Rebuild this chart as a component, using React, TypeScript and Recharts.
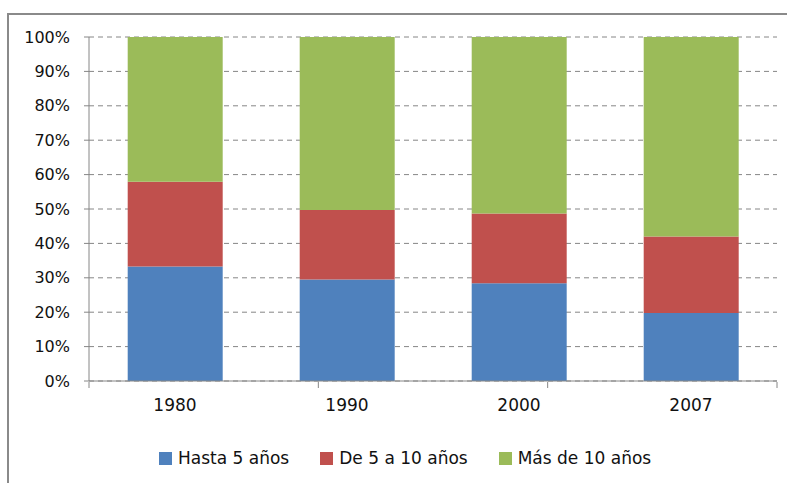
import { Bar, BarChart, CartesianGrid, Legend, XAxis, YAxis } from "recharts"

const years = ["1980", "1990", "2000", "2007"]
const hastaCinco = [33.3, 29.5, 28.4, 19.8]
const deCincoADiez = [24.6, 20.2, 20.3, 22.2]
const masDeDiez = [42.1, 50.3, 51.3, 58.0]
const yTicks = [0, 10, 20, 30, 40, 50, 60, 70, 80, 90, 100]
const edgeTicks = [0, 1, 2, 3, 4]

const series = [
    { key: "hasta", name: "Hasta 5 años", color: "#4F81BD" },
    { key: "de5", name: "De 5 a 10 años", color: "#C0504D" },
    { key: "mas", name: "Más de 10 años", color: "#9BBB59" },
]

const data = years.map((year, i) => ({
    year,
    hasta: hastaCinco[i],
    de5: deCincoADiez[i],
    mas: masDeDiez[i],
}))

const axisGray = "#868686"
const font = "'DejaVu Sans', Verdana, sans-serif"

const LegendBox = () => (
    <div style={{ display: "flex", alignItems: "center", height: 30, paddingLeft: 159, fontFamily: font, fontSize: 17, color: "#111" }}>
        {series.map((s) => (
            <div key={s.key} style={{ display: "flex", alignItems: "center", marginRight: 31 }}>
                <span style={{ width: 13, height: 13, background: s.color, display: "inline-block", marginRight: 6 }} />
                <span>{s.name}</span>
            </div>
        ))}
    </div>
)

const App = () => {
    return (
        <div style={{ position: "absolute", left: 0, top: 0, width: 787, height: 483, background: "#fff", overflow: "hidden" }}>
            <div style={{ position: "absolute", left: 7, top: 13, width: 800, height: 500, border: "2px solid #8a8a8a" }} />
            <div style={{ position: "absolute", left: 0, top: 0 }}>
                <BarChart
                    width={787}
                    height={483}
                    data={data}
                    margin={{ top: 37, right: 10, bottom: 10, left: 0 }}
                    barCategoryGap="22.5%"
                >
                    <CartesianGrid vertical={false} stroke={axisGray} strokeDasharray="5 4" />
                    <XAxis
                        dataKey="year"
                        height={1}
                        stroke={axisGray}
                        tickLine={false}
                        tickSize={5}
                        tickMargin={13}
                        tick={{ fill: "#111", fontSize: 17, fontFamily: font }}
                    />
                    <XAxis
                        xAxisId="edges"
                        type="number"
                        domain={[0, 4]}
                        ticks={edgeTicks}
                        height={61}
                        axisLine={false}
                        tickSize={6}
                        stroke={axisGray}
                        tickFormatter={() => ""}
                        allowDataOverflow
                    />
                    <YAxis
                        width={89}
                        domain={[0, 100]}
                        ticks={yTicks}
                        tickFormatter={(v) => `${v}%`}
                        stroke={axisGray}
                        tickSize={5}
                        tickMargin={14}
                        tick={{ fill: "#111", fontSize: 16, fontFamily: font }}
                    />
                    <Legend content={<LegendBox />} wrapperStyle={{ top: 443, left: 0, width: 787 }} />
                    {series.map((s) => (
                        <Bar key={s.key} dataKey={s.key} name={s.name} stackId="a" fill={s.color} isAnimationActive={false} />
                    ))}
                </BarChart>
            </div>
        </div>
    )
}

export default App
